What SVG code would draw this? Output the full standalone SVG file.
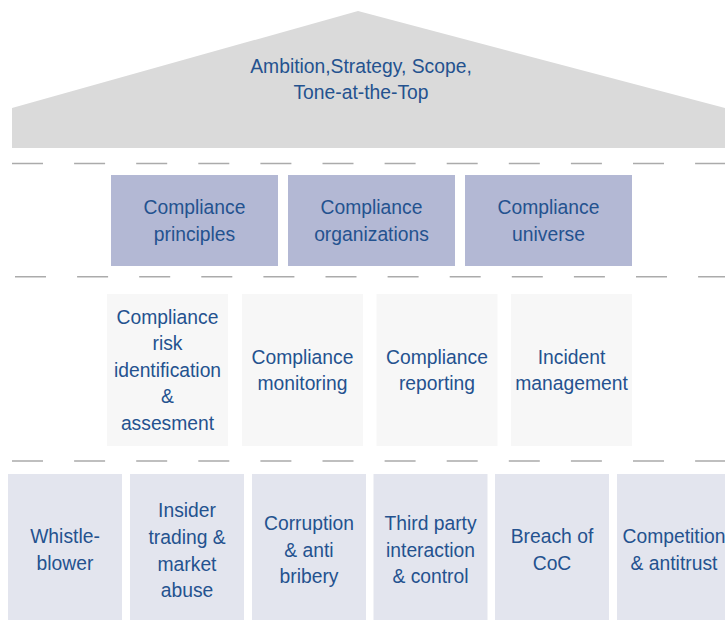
<svg xmlns="http://www.w3.org/2000/svg" width="725" height="620" viewBox="0 0 725 620">
<style>
text{font-family:"Liberation Sans",Arial,sans-serif;font-size:19.3px;fill:#24528f;text-anchor:middle}
.dash{stroke:#ababab;stroke-width:1.6;stroke-dasharray:31 31.1;fill:none}
.top{fill:#b3b8d4}
.mid{fill:#f7f7f7}
.bot{fill:#e3e5ee}
</style>
<rect width="725" height="620" fill="#ffffff"/>
<g id="roof">
<polygon points="12,108 358,11 725,108 725,148 12,148" fill="#dadada"/>
<text x="361" y="72.7">Ambition,Strategy, Scope,</text>
<text x="361" y="99.3">Tone-at-the-Top</text>
</g>
<g id="connectors">
<line class="dash" x1="12" y1="163.5" x2="725" y2="163.5"/>
<line class="dash" x1="15" y1="276.7" x2="725" y2="276.7"/>
<line class="dash" x1="12" y1="461" x2="725" y2="461"/>
</g>
<g id="principles"><rect class="top" x="111" y="175" width="167" height="91"/><text x="194.5" y="214">Compliance</text><text x="194.5" y="240.5">principles</text></g>
<g id="organizations"><rect class="top" x="288" y="175" width="167" height="91"/><text x="371.5" y="214">Compliance</text><text x="371.5" y="240.5">organizations</text></g>
<g id="universe"><rect class="top" x="465" y="175" width="167" height="91"/><text x="548.5" y="214">Compliance</text><text x="548.5" y="240.5">universe</text></g>
<g id="risk"><rect class="mid" x="107" y="294" width="121" height="152"/><text x="167.5" y="323.6">Compliance</text><text x="167.5" y="350.2">risk</text><text x="167.5" y="376.8">identification</text><text x="167.5" y="403.4">&amp;</text><text x="167.5" y="430">assesment</text></g>
<g id="monitoring"><rect class="mid" x="242" y="294" width="121" height="152"/><text x="302.5" y="363.5">Compliance</text><text x="302.5" y="390.1">monitoring</text></g>
<g id="reporting"><rect class="mid" x="376.5" y="294" width="121" height="152"/><text x="437" y="363.5">Compliance</text><text x="437" y="390.1">reporting</text></g>
<g id="incident"><rect class="mid" x="511" y="294" width="121" height="152"/><text x="571.5" y="363.5">Incident</text><text x="571.5" y="390.1">management</text></g>
<g id="whistle"><rect class="bot" x="8" y="474" width="114" height="152"/><text x="65" y="543.4">Whistle-</text><text x="65" y="570">blower</text></g>
<g id="insider"><rect class="bot" x="130" y="474" width="114" height="152"/><text x="187" y="517.3">Insider</text><text x="187" y="543.9">trading &amp;</text><text x="187" y="570.5">market</text><text x="187" y="597.1">abuse</text></g>
<g id="corruption"><rect class="bot" x="252" y="474" width="114" height="152"/><text x="309" y="530.1">Corruption</text><text x="309" y="556.7">&amp; anti</text><text x="309" y="583.3">bribery</text></g>
<g id="thirdparty"><rect class="bot" x="373.5" y="474" width="114" height="152"/><text x="430.5" y="530.1">Third party</text><text x="430.5" y="556.7">interaction</text><text x="430.5" y="583.3">&amp; control</text></g>
<g id="breach"><rect class="bot" x="495" y="474" width="114" height="152"/><text x="552" y="543.4">Breach of</text><text x="552" y="570">CoC</text></g>
<g id="competition"><rect class="bot" x="617" y="474" width="114" height="152"/><text x="674" y="543.4">Competition</text><text x="674" y="570">&amp; antitrust</text></g>
</svg>
